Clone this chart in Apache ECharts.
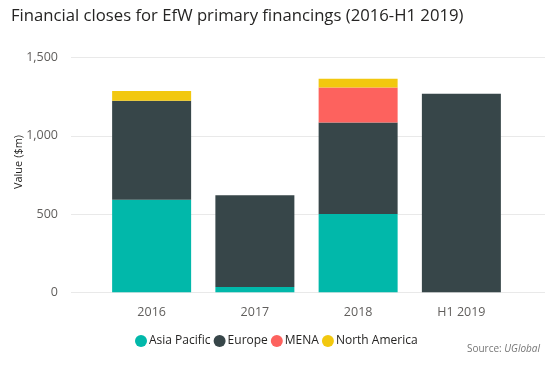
<!DOCTYPE html>
<html><head><meta charset="utf-8">
<script src="https://cdn.jsdelivr.net/npm/echarts@6/dist/echarts.min.js"></script>
<style>html,body{margin:0;padding:0;background:#fff}#c{width:548px;height:366px}</style>
</head><body><div id="c"></div>
<script>
var categories = ['2016', '2017', '2018', 'H1 2019'];
var asiaPacific = [592, 34, 500, 0];
var europe = [633, 586, 585, 1270];
var mena = [0, 0, 224, 0];
var northAmerica = [62, 0, 56, 0];
var yTicks = [0, 500, 1000, 1500];

var font = '"Open Sans", "Noto Sans", sans-serif';
var chart = echarts.init(document.getElementById('c'), null, {renderer: 'canvas'});
function s(name, data, color) {
  return {name: name, type: 'bar', stack: 'a', xAxisIndex: 1, yAxisIndex: 1,
    data: data, itemStyle: {color: color}, barWidth: 79, emphasis: {disabled: true}};
}
chart.setOption({
  animation: false,
  textStyle: {fontFamily: font},
  title: {text: 'Financial closes for EfW primary financings (2016-H1 2019)', left: 6, top: 3,
    textStyle: {fontFamily: font, fontSize: 16.7, fontWeight: 'normal', color: '#252423'}},
  grid: [
    {left: 71, right: 3, top: 57.7, bottom: 73.7},
    {left: 100, right: 35, top: 57.7, bottom: 73.7}
  ],
  xAxis: [
    {gridIndex: 0, type: 'value', show: false, min: 0, max: 1},
    {gridIndex: 1, type: 'category', data: categories,
      axisLine: {show: false}, axisTick: {show: false},
      axisLabel: {color: '#605E5C', fontSize: 12.5, margin: 14, fontFamily: font}}
  ],
  yAxis: [
    {gridIndex: 0, type: 'value', min: yTicks[0], max: yTicks[yTicks.length - 1], interval: 500,
      axisLine: {show: false}, axisTick: {show: false},
      splitLine: {lineStyle: {color: '#E9E9E9', width: 1}},
      axisLabel: {color: '#605E5C', fontSize: 12.5, margin: 13, fontFamily: font,
        formatter: function (v) { return v.toLocaleString('en-US'); }}},
    {gridIndex: 1, type: 'value', min: yTicks[0], max: yTicks[yTicks.length - 1], interval: 500, show: false,
      splitLine: {show: false}}
  ],
  legend: {
    left: 130, top: 330, itemWidth: 12, itemHeight: 12, itemGap: 3, icon: 'circle',
    textStyle: {color: '#252423', fontSize: 12, fontFamily: font, padding: [0, 0, 0, -3]},
    data: ['Asia Pacific', 'Europe', 'MENA', 'North America']
  },
  graphic: [
    {type: 'text', x: 19, y: 162, rotation: Math.PI / 2,
      style: {text: 'Value ($m)', fill: '#252423', font: '11px ' + font, textAlign: 'center', textVerticalAlign: 'middle', x: 0, y: 0}},
    {type: 'text', right: 8, top: 344,
      style: {rich: {a: {fontFamily: font, fontSize: 10, fill: '#777'}, b: {fontFamily: font, fontSize: 10, fill: '#777', fontStyle: 'italic'}},
        text: '{a|Source: }{b|UGlobal}'}}
  ],
  series: [
    s('Asia Pacific', asiaPacific, '#01B8AA'),
    s('Europe', europe, '#374649'),
    s('MENA', mena, '#FD625E'),
    s('North America', northAmerica, '#F2C80F')
  ]
});
</script></body></html>
